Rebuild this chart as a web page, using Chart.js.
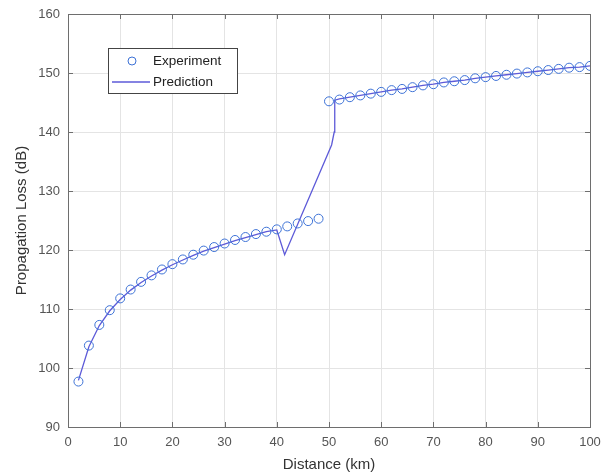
<!DOCTYPE html>
<html>
<head>
<meta charset="utf-8">
<script src="https://cdn.jsdelivr.net/npm/chart.js@4/dist/chart.umd.min.js"></script>
<style>
  html, body { margin: 0; padding: 0; background: #fff; }
  #wrap { width: 602px; height: 475px; position: relative; }
</style>
</head>
<body>
<div id="wrap"><canvas id="grafico"></canvas></div>
<script>
// experiment: measured points (km, dB)
const expDist = [2, 4, 6, 8, 10, 12, 14, 16, 18, 20, 22, 24, 26, 28, 30, 32, 34, 36, 38, 40, 42, 44, 46, 48,
  50, 52, 54, 56, 58, 60, 62, 64, 66, 68, 70, 72, 74, 76, 78, 80, 82, 84, 86, 88, 90, 92, 94, 96, 98, 100];
const expLoss = [97.7, 103.8, 107.3, 109.8, 111.8, 113.3, 114.6, 115.7, 116.7, 117.6, 118.4, 119.2, 119.9, 120.5, 121.1, 121.7, 122.2, 122.7, 123.1, 123.5, 124.0, 124.5, 124.9, 125.3,
  145.2, 145.5, 145.9, 146.2, 146.5, 146.8, 147.1, 147.3, 147.6, 147.9, 148.1, 148.4, 148.6, 148.8, 149.1, 149.3, 149.5, 149.7, 149.9, 150.1, 150.3, 150.5, 150.7, 150.9, 151.0, 151.2];

// prediction: model line
const predDist = [2, 4, 6, 8, 10, 12, 14, 16, 18, 20, 22, 24, 26, 28, 30, 32, 34, 36, 38, 40, 41.5, 50.5, 51, 51.1,
  52, 54, 56, 58, 60, 62, 64, 66, 68, 70, 72, 74, 76, 78, 80, 82, 84, 86, 88, 90, 92, 94, 96, 98, 100];
const predLoss = [97.9, 103.6, 107.2, 109.7, 111.6, 113.2, 114.5, 115.6, 116.6, 117.5, 118.3, 119.1, 119.8, 120.4, 121.0, 121.6, 122.1, 122.6, 123.1, 123.4, 119.2, 137.8, 140.0, 145.4,
  145.6, 145.9, 146.2, 146.5, 146.8, 147.1, 147.3, 147.6, 147.9, 148.1, 148.4, 148.6, 148.8, 149.1, 149.3, 149.5, 149.7, 149.9, 150.1, 150.3, 150.5, 150.7, 150.9, 151.0, 151.2];

const xTicks = [0, 10, 20, 30, 40, 50, 60, 70, 80, 90, 100];
const yTicks = [90, 100, 110, 120, 130, 140, 150, 160];

const toXY = (xs, ys) => xs.map((x, i) => ({ x: x, y: ys[i] }));

// legend + inward tick marks, MATLAB style
const matlabBits = {
  id: 'matlabBits',
  afterDraw(chart) {
    const c = chart.ctx;
    const a = chart.chartArea;
    const sx = chart.scales.x, sy = chart.scales.y;
    c.save();
    c.strokeStyle = '#6e6e6e';
    c.lineWidth = 1;
    c.beginPath();
    xTicks.forEach(v => {
      const p = Math.round(sx.getPixelForValue(v)) + 0.5;
      c.moveTo(p, a.bottom); c.lineTo(p, a.bottom - 5);
      c.moveTo(p, a.top); c.lineTo(p, a.top + 5);
    });
    yTicks.forEach(v => {
      const p = Math.round(sy.getPixelForValue(v)) + 0.5;
      c.moveTo(a.left, p); c.lineTo(a.left + 5, p);
      c.moveTo(a.right, p); c.lineTo(a.right - 5, p);
    });
    c.stroke();
    c.strokeRect(Math.round(a.left) + 0.5, Math.round(a.top) + 0.5, Math.round(a.right - a.left), Math.round(a.bottom - a.top));

    // legend box
    const lx = 108.5, ly = 48.5, lw = 129, lh = 45;
    c.fillStyle = '#fff';
    c.fillRect(lx, ly, lw, lh);
    c.strokeStyle = '#444';
    c.strokeRect(lx, ly, lw, lh);
    const ds = chart.data.datasets;
    c.strokeStyle = ds[0].borderColor;
    c.beginPath();
    c.arc(132, 61, 4, 0, Math.PI * 2);
    c.stroke();
    c.strokeStyle = ds[1].borderColor;
    c.lineWidth = 1.3;
    c.beginPath();
    c.moveTo(112, 82); c.lineTo(150, 82);
    c.stroke();
    c.fillStyle = '#222';
    c.font = '13.5px "Liberation Sans", Arial, sans-serif';
    c.textBaseline = 'middle';
    c.fillText(ds[0].label, 153, 61);
    c.fillText(ds[1].label, 153, 82);
    c.restore();
  }
};

const ctx = document.getElementById('grafico').getContext('2d');
const grafico = new Chart(ctx, {
  type: 'scatter',
  data: {
    datasets: [{
      label: 'Experiment',
      data: toXY(expDist, expLoss),
      showLine: false,
      pointStyle: 'circle',
      pointRadius: 4.5,
      pointBorderWidth: 1,
      borderColor: '#3d72d6',
      backgroundColor: 'rgba(0,0,0,0)',
      order: 1
    }, {
      label: 'Prediction',
      data: toXY(predDist, predLoss),
      showLine: true,
      pointRadius: 0,
      borderWidth: 1.3,
      borderColor: '#5d5ad8',
      backgroundColor: 'rgba(0,0,0,0)',
      tension: 0,
      order: 2
    }]
  },
  options: {
    responsive: true,
    maintainAspectRatio: false,
    animation: false,
    layout: { padding: { top: 14, right: 12, left: 0, bottom: 0 } },
    plugins: {
      legend: { display: false },
      tooltip: { enabled: false }
    },
    scales: {
      x: {
        type: 'linear',
        min: 0, max: 100,
        afterBuildTicks: s => { s.ticks = xTicks.map(v => ({ value: v })); },
        afterFit: s => { s.height = 48; s.paddingLeft = 0; s.paddingRight = 0; },
        grid: { color: '#e4e4e4', drawTicks: false },
        border: { display: false },
        ticks: { padding: 8, color: '#555', maxRotation: 0, font: { family: 'Liberation Sans', size: 13 } },
        title: {
          display: true, text: 'Distance (km)', color: '#333',
          font: { family: 'Liberation Sans', size: 15 }, padding: { top: 0, bottom: 1 }
        }
      },
      y: {
        type: 'linear',
        min: 90, max: 160,
        afterBuildTicks: s => { s.ticks = yTicks.map(v => ({ value: v })); },
        afterFit: s => { s.width = 68; s.paddingTop = 0; s.paddingBottom = 0; },
        grid: { color: '#e4e4e4', drawTicks: false },
        border: { display: false },
        ticks: { padding: 8, color: '#555', font: { family: 'Liberation Sans', size: 13 } },
        title: {
          display: true, text: 'Propagation Loss (dB)', color: '#333',
          font: { family: 'Liberation Sans', size: 15 }, padding: { top: 13, bottom: 0 }
        }
      }
    }
  },
  plugins: [matlabBits]
});
</script>
</body>
</html>
